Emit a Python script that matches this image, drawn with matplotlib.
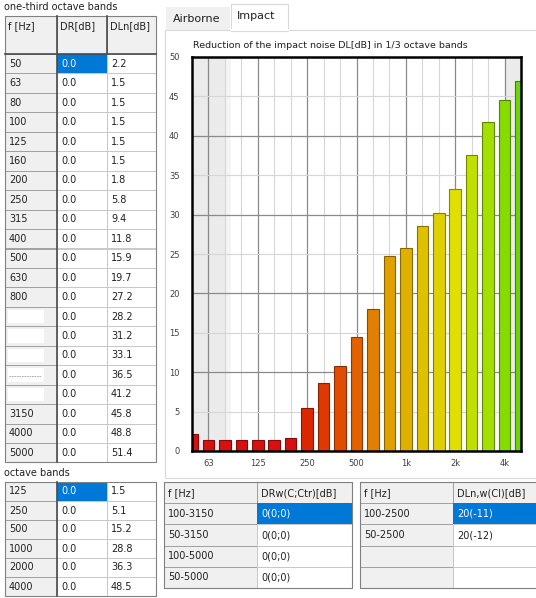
import numpy as np
import matplotlib
matplotlib.use('Agg')
import matplotlib.pyplot as plt
from matplotlib.patches import Rectangle
from matplotlib.colors import LinearSegmentedColormap, to_rgb

plt.rcParams['font.family'] = ['DejaVu Sans']

# --- data ---
third_freqs = ['50', '63', '80', '100', '125', '160', '200', '250', '315', '400', '500',
               '630', '800', '', '', '', '-----', '', '3150', '4000', '5000']
third_dr = ['0.0'] * 21
third_dln = ['2.2', '1.5', '1.5', '1.5', '1.5', '1.5', '1.8', '5.8', '9.4', '11.8', '15.9',
             '19.7', '27.2', '28.2', '31.2', '33.1', '36.5', '41.2', '45.8', '48.8', '51.4']

oct_freqs = ['125', '250', '500', '1000', '2000', '4000']
oct_dr = ['0.0'] * 6
oct_dln = ['1.5', '5.1', '15.2', '28.8', '36.3', '48.5']

# bar heights as drawn in the chart
bar_vals = [2.2, 1.4, 1.4, 1.4, 1.4, 1.4, 1.7, 5.4, 8.6, 10.8, 14.5,
            18.0, 24.8, 25.7, 28.5, 30.2, 33.2, 37.6, 41.7, 44.5, 46.9]
xtick_idx = [1, 4, 7, 10, 13, 16, 19]
xtick_lab = ['63', '125', '250', '500', '1k', '2k', '4k']

drw_ranges = ['100-3150', '50-3150', '100-5000', '50-5000']
drw_vals = ['0(0;0)', '0(0;0)', '0(0;0)', '0(0;0)']
dln_ranges = ['100-2500', '50-2500', '', '']
dln_vals = ['20(-11)', '20(-12)', '', '']

W, H = 536, 598
fig = plt.figure(figsize=(W / 100, H / 100), dpi=100)
fig.patch.set_facecolor('white')

# overlay axes in pixel coordinates for the UI parts
ui = fig.add_axes([0, 0, 1, 1])
ui.set_xlim(0, W)
ui.set_ylim(H, 0)
ui.axis('off')

FS = 7
GREY = '#f0f0f0'
SEL = '#0078d7'
LIGHT = '#c8c8c8'
DARK = '#4a4a4a'


def cell(x0, x1, y0, y1, text, bg='white', fg='#202020', edge=LIGHT):
    ui.add_patch(Rectangle((x0, y0), x1 - x0, y1 - y0, facecolor=bg, edgecolor=edge, lw=0.7))
    if text:
        ui.text(x0 + 4, (y0 + y1) / 2, text, fontsize=FS, color=fg, ha='left', va='center')


# ---- one-third octave table ----
ui.text(4, 7, 'one-third octave bands', fontsize=FS, color='#202020', va='center')
cx = [5, 57, 107, 156]
hy0, hy1 = 16, 54
rh = 19.45
for j, name in enumerate(['f [Hz]', 'DR[dB]', 'DLn[dB]']):
    ui.add_patch(Rectangle((cx[j], hy0), cx[j + 1] - cx[j], hy1 - hy0, facecolor=GREY, edgecolor='#a0a0a0', lw=0.7))
    ui.text(cx[j] + 3, hy0 + 10, name, fontsize=FS, color='#202020', va='center')
for i in range(len(third_freqs)):
    y0 = hy1 + i * rh
    y1 = y0 + rh
    cell(cx[0], cx[1], y0, y1, '', bg=GREY, edge='#a0a0a0')
    if third_freqs[i] in ('', '-----'):
        ui.add_patch(Rectangle((cx[0] + 3, y0 + 3), 36, rh - 6, facecolor='white', edgecolor='none'))
        if third_freqs[i]:
            ui.plot([cx[0] + 4, cx[0] + 36], [y0 + rh / 2 + 1] * 2, color='#a0a0a0', lw=0.6, ls=(0, (2, 1)))
    else:
        ui.text(cx[0] + 4, (y0 + y1) / 2, third_freqs[i], fontsize=FS, color='#202020', va='center')
    if i == 0:
        cell(cx[1], cx[2], y0, y1, third_dr[i], bg=SEL, fg='white', edge=SEL)
    else:
        cell(cx[1], cx[2], y0, y1, third_dr[i])
    cell(cx[2], cx[3], y0, y1, third_dln[i])
bot1 = hy1 + len(third_freqs) * rh
ui.plot([cx[1], cx[1]], [hy0, bot1], color=DARK, lw=1.2)
ui.plot([cx[2], cx[2]], [hy0, hy1], color=DARK, lw=1.2)
ui.plot([cx[0], cx[3]], [hy1, hy1], color=DARK, lw=1.2)
ui.add_patch(Rectangle((cx[0], hy0), cx[3] - cx[0], bot1 - hy0, facecolor='none', edgecolor='#808080', lw=0.8))

# ---- octave table ----
ui.text(4, 473, 'octave bands', fontsize=FS, color='#202020', va='center')
oy = 482
orh = 19.0
for i in range(len(oct_freqs)):
    y0 = oy + i * orh
    y1 = y0 + orh
    cell(cx[0], cx[1], y0, y1, oct_freqs[i], bg=GREY, edge='#a0a0a0')
    if i == 0:
        cell(cx[1], cx[2], y0, y1, oct_dr[i], bg=SEL, fg='white', edge=SEL)
    else:
        cell(cx[1], cx[2], y0, y1, oct_dr[i])
    cell(cx[2], cx[3], y0, y1, oct_dln[i])
ui.plot([cx[1], cx[1]], [oy, oy + 6 * orh], color=DARK, lw=1.2)
ui.add_patch(Rectangle((cx[0], oy), cx[3] - cx[0], 6 * orh, facecolor='none', edgecolor='#808080', lw=0.8))

# ---- tabs and panel ----
ui.add_patch(Rectangle((165, 30), 380, 448, facecolor='white', edgecolor='#d9d9d9', lw=0.8))
ui.add_patch(Rectangle((166, 7), 64, 23, facecolor='#f0f0f0', edgecolor='none'))
ui.add_patch(Rectangle((231, 4), 57, 26.5, facecolor='white', edgecolor='#d9d9d9', lw=0.8))
ui.plot([231.5, 287.5], [30, 30], color='white', lw=1.5)
ui.text(173, 19, 'Airborne', fontsize=8, color='#202020', va='center')
ui.text(237, 16, 'Impact', fontsize=8, color='#202020', va='center')

# ---- bottom tables ----
bty = 482
brh = 21.2
for tx, ranges, vals, head in [([164, 257, 352], drw_ranges, drw_vals, 'DRw(C;Ctr)[dB]'),
                               ([360, 453, 545], dln_ranges, dln_vals, 'DLn,w(CI)[dB]')]:
    cell(tx[0], tx[1], bty, bty + brh, 'f [Hz]', bg=GREY, edge='#a0a0a0')
    cell(tx[1], tx[2], bty, bty + brh, head, bg=GREY, edge='#a0a0a0')
    for i in range(len(ranges)):
        y0 = bty + (i + 1) * brh
        y1 = y0 + brh
        cell(tx[0], tx[1], y0, y1, ranges[i], bg=GREY, edge='#a0a0a0')
        if i == 0:
            cell(tx[1], tx[2], y0, y1, vals[i], bg=SEL, fg='white', edge=SEL)
        else:
            cell(tx[1], tx[2], y0, y1, vals[i])
    ui.add_patch(Rectangle((tx[0], bty), tx[2] - tx[0], 5 * brh, facecolor='none', edgecolor='#808080', lw=0.8))

# ---- bar chart ----
left, right, top, bottom = 192, 521, 57, 451
ax = fig.add_axes([left / W, 1 - bottom / H, (right - left) / W, (bottom - top) / H])
ax.set_facecolor('white')
x = np.arange(len(bar_vals))
ax.set_xlim(0, 20)
ax.set_ylim(0, 50)

ax.axvspan(0, 2.0, color='#ebebeb', zorder=0, lw=0)
ax.axvspan(2.0, 2.4, color='#f4f4f4', zorder=0, lw=0)
ax.axvspan(19, 20, color='#ebebeb', zorder=0, lw=0)

for xi in x:
    if xi in xtick_idx:
        ax.axvline(xi, color='#8a8a8a', lw=0.9, zorder=1)
    else:
        ax.axvline(xi, color='#d6d6d6', lw=0.8, zorder=1)
for yv in range(5, 50, 5):
    if yv % 10 == 0:
        ax.axhline(yv, color='#8a8a8a', lw=0.9, zorder=1)
    else:
        ax.axhline(yv, color='#d6d6d6', lw=0.8, zorder=1)

cmap = LinearSegmentedColormap.from_list('rg', [
    (0.0, '#d81010'), (0.3, '#d81010'), (0.35, '#dc2600'), (0.5, '#e26000'),
    (0.6, '#e0a000'), (0.8, '#dfe000'), (0.9, '#a4e000'), (1.0, '#6cd800')])
colors = [cmap(i / 20) for i in x]
edges = [tuple(c * 0.6 for c in to_rgb(col)) for col in colors]
ax.bar(x, bar_vals, width=0.7, color=colors, edgecolor=edges, lw=0.8, zorder=2)

for sp in ax.spines.values():
    sp.set_color('black')
    sp.set_linewidth(1.8)
    sp.set_zorder(5)

ax.set_xticks(xtick_idx)
ax.set_xticklabels(xtick_lab)
ax.set_yticks(range(0, 51, 5))
ax.tick_params(length=0, labelsize=6, colors='#404040', pad=6)
ax.tick_params(axis='y', pad=9)

ui.text(left + 1, 45, 'Reduction of the impact noise DL[dB] in 1/3 octave bands',
        fontsize=6.8, color='#202020', va='center')

fig.savefig('out.png', dpi=100)
